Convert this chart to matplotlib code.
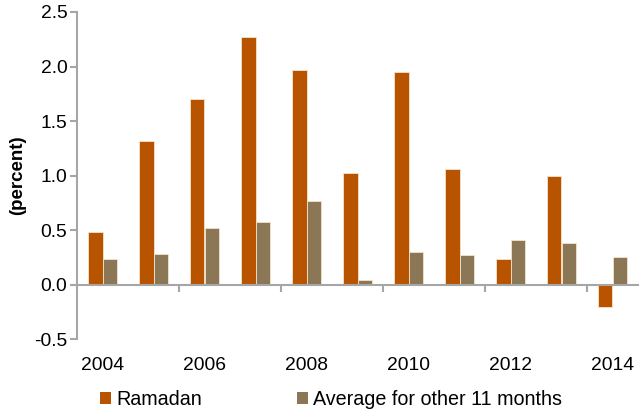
import numpy as np
import matplotlib
matplotlib.use("Agg")
import matplotlib.pyplot as plt
from matplotlib.patches import Patch

plt.rcParams['font.family'] = ['Liberation Sans', 'DejaVu Sans']

years = [2004, 2005, 2006, 2007, 2008, 2009, 2010, 2011, 2012, 2013, 2014]
ramadan = [0.48, 1.32, 1.70, 2.27, 1.97, 1.02, 1.95, 1.06, 0.23, 1.00, -0.21]
other_months = [0.23, 0.28, 0.52, 0.57, 0.77, 0.04, 0.30, 0.27, 0.41, 0.38, 0.25]
year_labels = ['2004', '2006', '2008', '2010', '2012', '2014']

c_ram = '#B85400'
c_oth = '#8B7756'
edge = '#F3E3CC'
axis_grey = '#A6A6A6'

fig = plt.figure(figsize=(6.42, 4.17), dpi=100)
ax = fig.add_axes([77 / 642, 1 - 339 / 417, 561 / 642, 327 / 417])

x = np.arange(len(years))
w = 0.285
ax.bar(x - w / 2, ramadan, w, color=c_ram, edgecolor=edge, linewidth=0.6)
ax.bar(x + w / 2, other_months, w, color=c_oth, edgecolor=edge, linewidth=0.6)

ax.set_xlim(-0.5, len(years) - 0.5)
ax.set_ylim(-0.5, 2.5)
ax.set_yticks(np.arange(-0.5, 2.51, 0.5))
ax.set_yticklabels([f'{v:.1f}' for v in np.arange(-0.5, 2.51, 0.5)])

# x axis sits at zero, labels pushed below the plot
ax.spines['bottom'].set_position(('data', 0))
for s in ['top', 'right']:
    ax.spines[s].set_visible(False)
for s in ['left', 'bottom']:
    ax.spines[s].set_color(axis_grey)
    ax.spines[s].set_linewidth(1.5)

ax.set_xticks(x[::2])
ax.set_xticklabels(year_labels)
ax.set_xticks(np.arange(1.5, len(years) - 1, 2), minor=True)
ax.tick_params(axis='x', which='major', length=0, pad=52, labelsize=13.9)
ax.tick_params(axis='x', which='minor', length=5, width=1.5, color=axis_grey, direction='out')
ax.tick_params(axis='y', length=5, width=1.5, color=axis_grey, pad=2, labelsize=13.9)

ax.set_ylabel('(percent)', fontsize=13.5, fontweight='bold', labelpad=6)

handles = [Patch(facecolor=c_ram, label='Ramadan'),
           Patch(facecolor=c_oth, label='Average for other 11 months')]
fig.legend(handles=handles, loc='center', bbox_to_anchor=(331 / 642, 1 - 399.5 / 417),
           ncol=2, frameon=False, fontsize=14.2, handlelength=0.58, handleheight=0.58,
           handletextpad=0.25, columnspacing=4.8, borderpad=0)

fig.savefig('out.png', dpi=100)
